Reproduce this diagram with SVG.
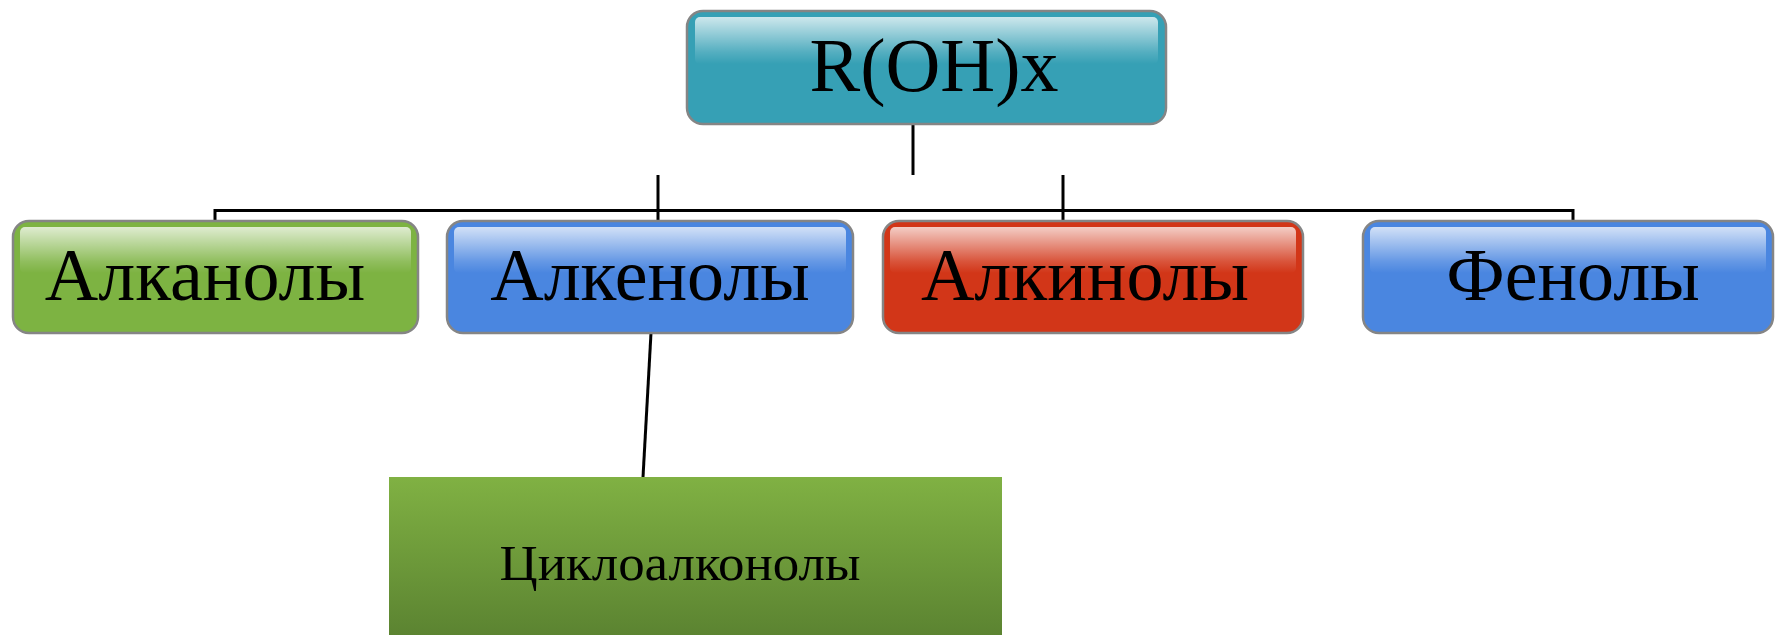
<svg xmlns="http://www.w3.org/2000/svg" width="1775" height="635" viewBox="0 0 1775 635">
<defs>
<linearGradient id="gloss" x1="0" y1="0" x2="0" y2="1">
<stop offset="0" stop-color="#ffffff" stop-opacity="0.75"/>
<stop offset="0.75" stop-color="#ffffff" stop-opacity="0.15"/>
<stop offset="1" stop-color="#ffffff" stop-opacity="0"/>
</linearGradient>
<linearGradient id="gb" x1="0" y1="0" x2="0" y2="1">
<stop offset="0" stop-color="#80b143"/>
<stop offset="1" stop-color="#5b8331"/>
</linearGradient>
<style>
.box{stroke:#858585;stroke-width:2.5}
.teal{fill:#36a0b5}
.green{fill:#7db342}
.blue{fill:#4a86e0}
.red{fill:#d23618}
.hl{fill:url(#gloss)}
.lbl{font-family:"Liberation Serif","Times New Roman",serif;fill:#000;text-anchor:middle}
.con{stroke:#000;stroke-width:3;fill:none}
</style>
</defs>
<rect width="1775" height="635" fill="#ffffff"/>
<g id="connectors">
<line class="con" x1="913" y1="125" x2="913" y2="175"/>
<polyline class="con" points="215,221 215,210.5 1573,210.5 1573,221"/>
<line class="con" x1="658" y1="175" x2="658" y2="221"/>
<line class="con" x1="1063" y1="175" x2="1063" y2="221"/>
<line class="con" x1="651" y1="333" x2="643" y2="477"/>
</g>
<g id="node-root">
<rect class="box teal" x="687" y="11" width="479" height="113" rx="16"/>
<rect class="hl" x="695" y="17" width="463" height="47" rx="5"/>
<text class="lbl" x="934" y="91" font-size="76">R(OH)x</text>
</g>
<g id="node-alkanols">
<rect class="box green" x="13" y="221" width="405" height="112" rx="16"/>
<rect class="hl" x="20" y="227" width="391" height="46" rx="5"/>
<text class="lbl" x="205" y="300" font-size="74">Алканолы</text>
</g>
<g id="node-alkenols">
<rect class="box blue" x="447" y="221" width="406" height="112" rx="16"/>
<rect class="hl" x="454" y="227" width="392" height="46" rx="5"/>
<text class="lbl" x="650" y="300" font-size="74">Алкенолы</text>
</g>
<g id="node-alkinols">
<rect class="box red" x="883" y="221" width="420" height="112" rx="16"/>
<rect class="hl" x="890" y="227" width="406" height="46" rx="5"/>
<text class="lbl" x="1085" y="300" font-size="74">Алкинолы</text>
</g>
<g id="node-phenols">
<rect class="box blue" x="1363" y="221" width="410" height="112" rx="16"/>
<rect class="hl" x="1370" y="227" width="396" height="46" rx="5"/>
<text class="lbl" x="1573" y="300" font-size="74">Фенолы</text>
</g>
<g id="node-cycloalkonols">
<rect x="389" y="477" width="613" height="160" fill="url(#gb)"/>
<text class="lbl" x="680" y="580" font-size="51" textLength="361" lengthAdjust="spacingAndGlyphs">Циклоалконолы</text>
</g>
</svg>
